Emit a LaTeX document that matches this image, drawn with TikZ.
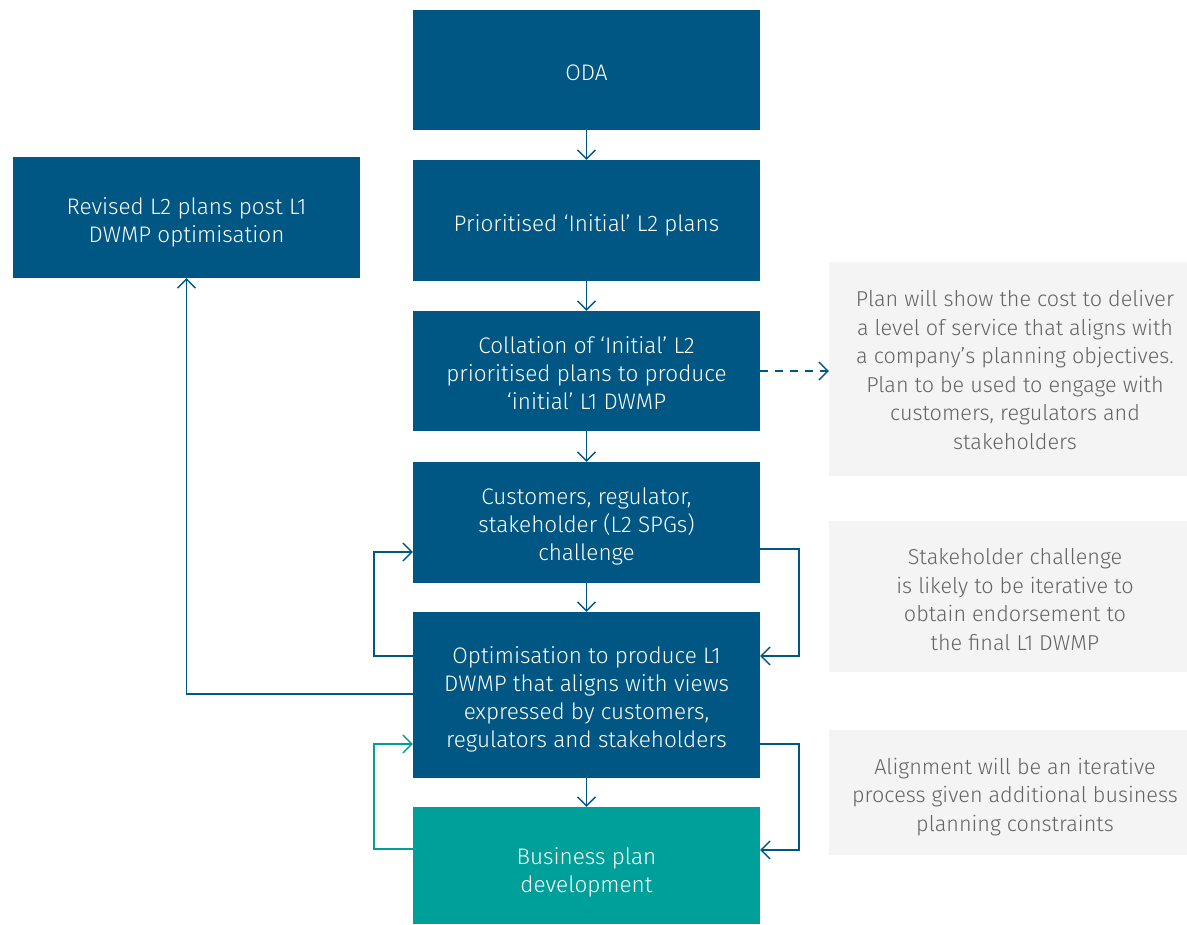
\documentclass[tikz,border=0pt]{standalone}
\usepackage{fontspec}
\setmainfont{Fira Sans}[UprightFont=* Light]
\usetikzlibrary{arrows.meta}
\definecolor{navy}{RGB}{0,87,131}
\definecolor{teal}{RGB}{0,160,154}
\definecolor{panel}{RGB}{244,244,244}
\definecolor{note}{RGB}{100,100,100}
% centred lines of text, lowered by #1 without changing the box size
\newcommand\lines[2][5pt]{\raisebox{-#1}[\height][\depth]{\begin{tabular}{@{}c@{}}#2\end{tabular}}}
\begin{document}
\begin{tikzpicture}[x=1pt,y=-1pt,
  stepbox/.style={rectangle, fill=navy, text=white, minimum width=347pt, inner sep=0pt,
    font=\fontsize{22.5}{28}\selectfont},
  notebox/.style={rectangle, fill=panel, text=note, minimum width=372pt, inner sep=0pt,
    font=\fontsize{21.6}{28.5}\selectfont},
  link/.style={draw=navy, line width=1.4pt, -{Straight Barb[length=9pt,width=18pt,line width=1.4pt]}},
  tlink/.style={link, draw=teal}]
\useasboundingbox (0,0) rectangle (1187,925);
% main column
\node[stepbox, minimum height=120pt] (oda)  at (586.5,70)    {\lines{ODA}};
\node[stepbox, minimum height=121pt] (prio) at (586.5,220.5) {\lines[5.5pt]{Prioritised ‘Initial’ L2 plans}};
\node[stepbox, minimum height=120pt] (coll) at (586.5,371)   {\lines{Collation of ‘Initial’ L2\\prioritised plans to produce\\‘initial’ L1 DWMP}};
\node[stepbox, minimum height=121pt] (cust) at (586.5,522.5) {\lines[4.5pt]{Customers, regulator,\\stakeholder (L2 SPGs)\\challenge}};
\node[stepbox, minimum height=166pt] (opt)  at (586.5,695)   {\lines[5pt]{Optimisation to produce L1\\DWMP that aligns with views\\expressed by customers,\\regulators and stakeholders}};
\node[stepbox, fill=teal, minimum height=117pt] (bus) at (586.5,865.5) {\lines[7.5pt]{Business plan\\development}};
\node[stepbox, minimum height=121pt] (rev) at (186.5,217.5) {\lines[5pt]{Revised L2 plans post L1\\DWMP optimisation}};
% side notes
\node[notebox, minimum height=214pt] (n1) at (1015,369) {\lines[3.5pt]{Plan will show the cost to deliver\\a level of service that aligns with\\a company’s planning objectives.\\Plan to be used to engage with\\customers, regulators and\\stakeholders}};
\node[notebox, minimum height=151pt] (n2) at (1015,596.5) {\lines[5.5pt]{Stakeholder challenge\\is likely to be iterative to\\obtain endorsement to\\the final L1 DWMP}};
\node[notebox, minimum height=125pt] (n3) at (1015,792.5) {\lines[4.5pt]{Alignment will be an iterative\\process given additional business\\planning constraints}};
% flow down the column
\draw[link] (oda) -- (prio);
\draw[link] (prio) -- (coll);
\draw[link] (coll) -- (cust);
\draw[link] (cust) -- (opt);
\draw[link] (opt) -- (bus);
% dashed link to the first note
\draw[link, dash pattern=on 8pt off 7pt] (coll.east) -- (n1.west |- coll.east);
% challenge loop
\draw[link] (cust.east |- 0,549) -| (799,656) -- (opt.east |- 0,656);
\draw[link] (opt.west |- 0,656) -| (374,552) -- (cust.west |- 0,552);
% back to the revised L2 plans
\draw[link] (opt.west |- 0,694) -| (rev.south);
% alignment loop
\draw[link] (opt.east |- 0,744) -| (799,850) -- (bus.east |- 0,850);
\draw[tlink] (bus.west |- 0,849) -| (374,744) -- (opt.west |- 0,744);
\end{tikzpicture}
\end{document}
